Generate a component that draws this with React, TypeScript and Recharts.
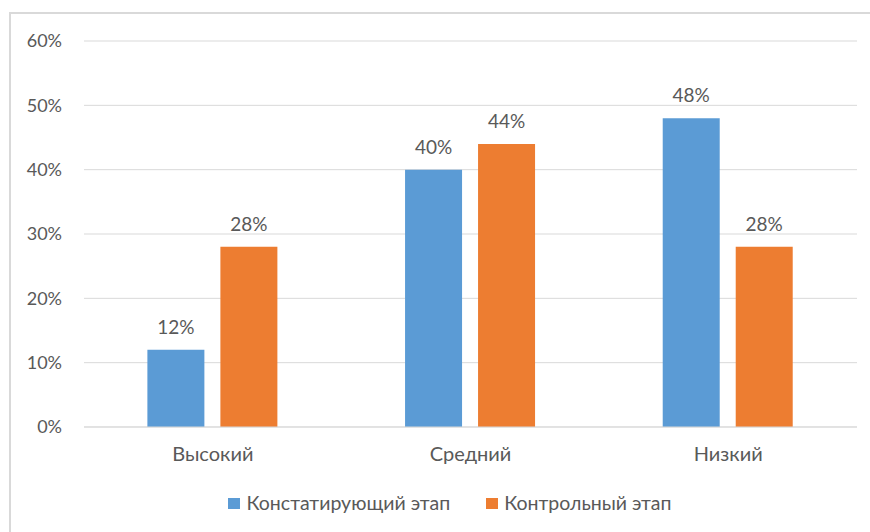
import React from 'react';
import { BarChart, Bar, XAxis, YAxis, CartesianGrid, Legend, LabelList } from 'recharts';

const categories = ['Высокий', 'Средний', 'Низкий'];
const stating = [12, 40, 48];
const control = [28, 44, 28];
const yTicks = [0, 10, 20, 30, 40, 50, 60];

const seriesNames = { stating: 'Констатирующий этап', control: 'Контрольный этап' };
const BLUE = '#5B9BD5';
const ORANGE = '#ED7D31';
const TEXT = '#595959';
const GRID = '#D9D9D9';
const FONT = 'Lato, "Open Sans", sans-serif';

const data = categories.map((name, i) => ({ name, stating: stating[i], control: control[i] }));

function LegendContent({ payload }: any) {
  return (
    <div
      style={{
        display: 'flex',
        justifyContent: 'center',
        paddingLeft: 43,
        fontFamily: FONT,
        fontSize: 19.5,
        color: TEXT,
        lineHeight: '24px',
      }}
    >
      {(payload || []).map((p: any, i: number) => (
        <div key={i} style={{ display: 'flex', alignItems: 'center', marginRight: i === 0 ? 36 : 0 }}>
          <span style={{ width: 12, height: 11, background: p.color, display: 'inline-block', marginRight: 6 }} />
          <span>{p.value}</span>
        </div>
      ))}
    </div>
  );
}

export default function App() {
  return (
    <div style={{ position: 'fixed', left: 0, top: 0, width: 870, height: 532, background: '#fff', overflow: 'hidden' }}>
      <div
        style={{
          position: 'absolute',
          left: 9,
          top: 12,
          width: 900,
          height: 600,
          borderTop: `2px solid ${GRID}`,
          borderLeft: `2px solid ${GRID}`,
        }}
      />
      <div style={{ position: 'absolute', left: 0, top: 0 }}>
        <BarChart
          width={870}
          height={532}
          data={data}
          margin={{ top: 41, right: 13, left: 0, bottom: 17 }}
          barCategoryGap="24.6%"
          barGap={16}
          style={{ fontFamily: FONT }}
        >
          <CartesianGrid vertical={false} stroke={GRID} strokeWidth={1} />
          <XAxis
            dataKey="name"
            axisLine={{ stroke: GRID }}
            tickLine={false}
            tickMargin={14}
            height={64}
            tick={{ fill: TEXT, fontSize: 20 }}
          />
          <YAxis
            domain={[0, 60]}
            ticks={yTicks}
            width={84}
            axisLine={false}
            tickLine={false}
            tickMargin={16}
            tickFormatter={(v: number) => `${v}%`}
            tick={{ fill: TEXT, fontSize: 18 }}
          />
          <Legend verticalAlign="bottom" height={24} content={<LegendContent />} />
          <Bar dataKey="stating" name={seriesNames.stating} fill={BLUE} isAnimationActive={false}>
            <LabelList dataKey="stating" position="top" offset={16} fill={TEXT} fontSize={19} formatter={(v: number) => `${v}%`} />
          </Bar>
          <Bar dataKey="control" name={seriesNames.control} fill={ORANGE} isAnimationActive={false}>
            <LabelList dataKey="control" position="top" offset={16} fill={TEXT} fontSize={19} formatter={(v: number) => `${v}%`} />
          </Bar>
        </BarChart>
      </div>
    </div>
  );
}
